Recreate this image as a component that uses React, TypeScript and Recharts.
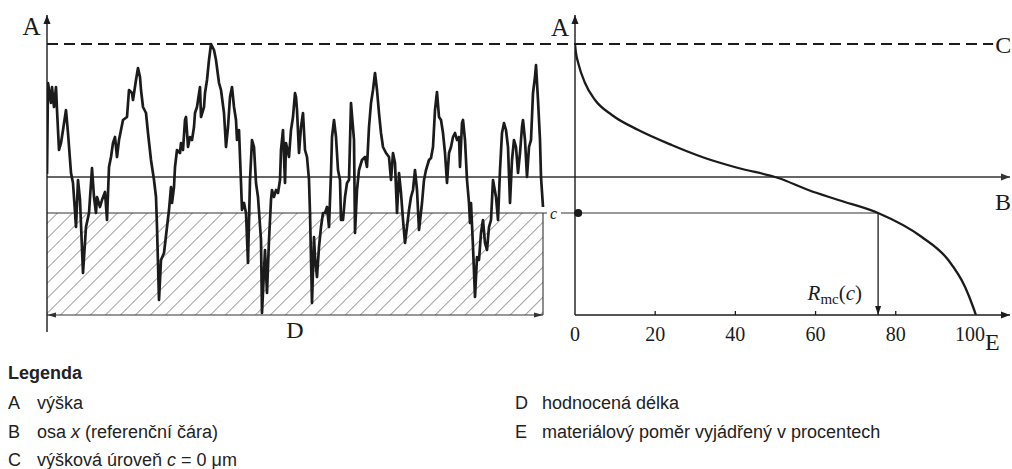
import React from "react";
import {
  ComposedChart,
  Line,
  XAxis,
  YAxis,
  ReferenceLine,
  ReferenceArea,
  ReferenceDot,
} from "recharts";

// surface profile: position along evaluation length (mm) and height (µm, relative to line B)
const profileX = [
  0.0, 0.01, 0.04, 0.05, 0.07, 0.09, 0.1, 0.12, 0.14, 0.16, 0.19, 0.21, 0.24, 0.26, 0.29, 0.31, 0.33, 0.36,
  0.39, 0.42, 0.45, 0.47, 0.49, 0.5, 0.53, 0.55, 0.58, 0.6, 0.62, 0.64, 0.66, 0.68, 0.7, 0.72, 0.74, 0.76,
  0.8, 0.82, 0.85, 0.86, 0.89, 0.91, 0.93, 0.94, 0.96, 0.99, 1.01, 1.04, 1.07, 1.09, 1.1, 1.12, 1.14, 1.17,
  1.2, 1.22, 1.24, 1.25, 1.27, 1.28, 1.3, 1.33, 1.34, 1.36, 1.38, 1.39, 1.41, 1.43, 1.45, 1.47, 1.48, 1.5,
  1.53, 1.54, 1.57, 1.58, 1.6, 1.62, 1.64, 1.67, 1.69, 1.72, 1.74, 1.77, 1.79, 1.81, 1.83, 1.85, 1.87, 1.89,
  1.9, 1.92, 1.94, 1.95, 1.97, 1.99, 2.01, 2.03, 2.05, 2.07, 2.09, 2.11, 2.14, 2.15, 2.18, 2.2, 2.22, 2.24,
  2.25, 2.27, 2.29, 2.31, 2.33, 2.34, 2.36, 2.38, 2.39, 2.42, 2.44, 2.46, 2.48, 2.49, 2.5, 2.52, 2.54, 2.56,
  2.58, 2.6, 2.62, 2.63, 2.65, 2.67, 2.68, 2.7, 2.72, 2.74, 2.76, 2.78, 2.8, 2.82, 2.84, 2.85, 2.87, 2.89,
  2.91, 2.93, 2.94, 2.96, 2.98, 3.0, 3.02, 3.04, 3.07, 3.08, 3.1, 3.12, 3.15, 3.18, 3.2, 3.22, 3.24, 3.26,
  3.28, 3.3, 3.32, 3.34, 3.36, 3.39, 3.42, 3.44, 3.46, 3.48, 3.5, 3.52, 3.54, 3.56, 3.58, 3.6, 3.62, 3.64,
  3.66, 3.68, 3.7, 3.72, 3.75, 3.77, 3.79, 3.82, 3.84, 3.86, 3.88, 3.9, 3.92, 3.94, 3.96, 3.98, 4.0, 4.02,
  4.04, 4.06, 4.08, 4.1, 4.12, 4.13, 4.15, 4.16, 4.18, 4.2, 4.22, 4.23, 4.24, 4.26, 4.28, 4.3, 4.32, 4.34,
  4.36, 4.38, 4.4, 4.42, 4.44, 4.46, 4.49, 4.51, 4.53, 4.55, 4.57, 4.59, 4.61, 4.63, 4.65, 4.67, 4.69, 4.71,
  4.73, 4.75, 4.76, 4.78, 4.8, 4.82, 4.84, 4.86, 4.88, 4.89, 4.91, 4.93, 4.94, 4.96,
];
const profileZ = [
  0.3, 9.4, 7.4, 9.0, 7.0, 9.0, 6.7, 2.7, 3.4, 4.7, 6.7, 4.4, 0.4, -0.6, -5.0, -0.3, -2.3, -9.6,
  -5.0, -3.6, 0.9, -2.0, -3.6, -2.0, -3.0, -2.3, -1.5, -4.3, 1.0, 2.0, 3.4, 4.0, 2.0, 3.7, 4.7, 5.7,
  6.0, 8.7, 8.4, 7.7, 9.7, 10.9, 10.0, 8.7, 7.0, 6.4, 4.4, 1.7, -0.3, -2.0, -5.0, -12.3, -8.3, -7.6,
  -5.0, -3.3, -1.0, -2.6, -1.0, 1.0, 2.7, 2.4, 3.4, 2.7, 5.7, 6.0, 3.0, 4.0, 3.7, 5.0, 6.4, 7.0,
  9.0, 6.0, 7.0, 8.4, 9.7, 11.7, 13.3, 12.7, 11.7, 9.4, 8.7, 6.4, 3.0, 5.0, 8.0, 9.0, 7.0, 5.7,
  3.7, 4.7, -0.6, -3.3, -2.6, -3.6, -8.6, -0.3, 3.7, 3.0, -0.6, -2.0, -6.3, -13.6, -7.3, -11.6, -6.3, -2.3,
  -1.3, -2.0, -1.3, -1.6, -0.3, 2.7, 4.7, -0.6, 3.4, 2.0, 4.7, 6.0, 8.4, 8.0, 6.7, 2.4, 5.0, 6.4,
  2.7, 2.0, -0.3, -3.6, -12.6, -6.0, -8.0, -10.0, -7.0, -5.0, -3.6, -3.6, -3.0, -5.0, 0.4, 4.0, 5.7, 4.0,
  0.7, -0.3, -4.3, -4.3, -2.0, -0.6, -0.3, 7.4, 3.7, -5.6, -1.3, 0.7, 1.7, 2.0, 1.0, 5.0, 7.4, 8.7,
  10.4, 8.7, 6.4, 4.4, 3.0, 2.4, 2.0, -0.3, 2.4, 1.4, -3.6, 0.4, -1.6, -4.3, -6.6, -5.0, -3.3, -2.0,
  -1.3, 0.7, -1.3, -5.3, -2.6, -0.3, 0.7, 1.7, 1.9, 3.0, 6.7, 8.5, 6.0, 5.7, 4.4, 2.4, -0.6, 2.4,
  3.0, 4.0, 4.4, 3.7, 4.0, 1.0, 5.4, 5.7, 3.7, -0.3, -2.6, -4.6, -2.6, -7.0, -12.0, -8.0, -8.3, -5.6,
  -4.3, -6.6, -7.3, -5.0, -4.3, -0.3, -2.0, -4.3, 0.7, 4.4, 5.4, 4.7, 3.0, -2.6, 1.7, 3.7, 3.0, 0.4,
  2.4, 5.0, 5.7, 3.7, 0.0, 3.0, 3.7, 8.4, 10.0, 11.2, 7.7, 3.7, 0.0, -3.0,
];

// material ratio curve: ratio (%) and height (µm)
const ratioPct = [0, 0.25, 0.8, 2.5, 5.0, 9.2, 15.8, 24.1, 32.4, 40.7, 50.7, 58.2, 65.7, 75.6, 86.5, 93.1, 97.3, 99.3, 100];
const ratioZ = [13.3, 12.4, 11.4, 9.4, 7.7, 6.2, 4.7, 3.2, 1.9, 0.9, -0.1, -1.3, -2.3, -3.6, -6.0, -8.3, -11.0, -13.0, -13.8];
const ratioTicks = [0, 20, 40, 60, 80, 100];

// levels
const PEAK_Z = 13.3; // C, highest peak
const CUT_Z = -3.6; // section level c
const BASE_Z = -13.8; // lowest valley
const TOP_Z = 16.2; // arrow tips of height axes
const TAIL_Z = -15.5; // left axis runs a bit below the profile
const EVAL_LEN = 4.96;
const LEFT_MAX = 5.28;
const RIGHT_MAX = 108.5;
const RMC = 75.6;

const legendLeft: [string, React.ReactNode][] = [
  ["A", "výška"],
  ["B", <>osa <tspan fontStyle="italic">x</tspan> (referenční čára)</>],
  ["C", <>výšková úroveň <tspan fontStyle="italic">c</tspan> = 0 μm</>],
];
const legendRight: [string, React.ReactNode][] = [
  ["D", "hodnocená délka"],
  ["E", "materiálový poměr vyjádřený v procentech"],
];

const profileData = profileX.map((x, i) => ({ x, z: profileZ[i] }));
const ratioData = ratioPct.map((p, i) => ({ p, z: ratioZ[i] }));

const ink = "#1b1b1b";
const serif = "'Liberation Serif', 'DejaVu Serif', serif";
const sans = "'Liberation Sans', Arial, sans-serif";
const CW = 1012;
const CH = 360;

function head(x1: number, y1: number, x2: number, y2: number, len: number, half: number) {
  const d = Math.hypot(x2 - x1, y2 - y1) || 1;
  const ux = (x2 - x1) / d;
  const uy = (y2 - y1) / d;
  const bx = x2 - ux * len;
  const by = y2 - uy * len;
  return `${x2},${y2} ${bx - uy * half},${by + ux * half} ${bx + uy * half},${by - ux * half}`;
}

type Spec = {
  heads?: "end" | "both";
  len?: number;
  half?: number;
  width?: number;
  color?: string;
  dash?: string;
  text?: React.ReactNode;
  at?: "end" | "mid";
  tx?: number;
  ty?: number;
  anchor?: "start" | "middle" | "end";
  size?: number;
  italic?: boolean;
};

const arrowLine = (s: Spec) => (p: any) => {
  const { x1, y1, x2, y2 } = p;
  const color = s.color ?? ink;
  const len = s.len ?? 9;
  const half = s.half ?? 3.5;
  const rx = s.at === "mid" ? (x1 + x2) / 2 : x2;
  const ry = s.at === "mid" ? (y1 + y2) / 2 : y2;
  return (
    <g>
      <line x1={x1} y1={y1} x2={x2} y2={y2} stroke={color} strokeWidth={s.width ?? 1.3} strokeDasharray={s.dash} />
      {s.heads && <polygon points={head(x1, y1, x2, y2, len, half)} fill={color} />}
      {s.heads === "both" && <polygon points={head(x2, y2, x1, y1, len, half)} fill={color} />}
      {s.text != null && (
        <text
          x={rx + (s.tx ?? 0)}
          y={ry + (s.ty ?? 0)}
          textAnchor={s.anchor ?? "middle"}
          fontFamily={serif}
          fontSize={s.size ?? 24}
          fontStyle={s.italic ? "italic" : "normal"}
          fill={ink}
        >
          {s.text}
        </text>
      )}
    </g>
  );
};

const RatioTick = (props: any) => {
  const { x, y, payload } = props;
  const v = payload.value as number;
  return (
    <g>
      {v > 0 && v < 100 && <line x1={x} y1={y} x2={x} y2={y - 4} stroke={ink} strokeWidth={1.3} />}
      <text x={v === 100 ? x - 6 : x} y={y + 26} textAnchor="middle" fontFamily={serif} fontSize={20} fill={ink}>
        {v}
      </text>
    </g>
  );
};

function ProfilePanel() {
  return (
    <ComposedChart width={CW} height={CH} margin={{ top: 15, right: CW - 575, bottom: 45, left: 47 }}>
      <XAxis type="number" dataKey="x" domain={[0, LEFT_MAX]} allowDataOverflow hide />
      <YAxis type="number" domain={[BASE_Z, TOP_Z]} allowDataOverflow hide />
      <ReferenceArea x1={0} x2={EVAL_LEN} y1={BASE_Z} y2={CUT_Z} fill="url(#hatch)" fillOpacity={1} stroke="none" ifOverflow="visible" />
      <ReferenceLine segment={[{ x: EVAL_LEN, y: CUT_Z }, { x: EVAL_LEN, y: BASE_Z }]} ifOverflow="visible" shape={arrowLine({ width: 1.1, color: "#333" })} />
      <ReferenceLine segment={[{ x: 0, y: 0 }, { x: LEFT_MAX, y: 0 }]} ifOverflow="visible" shape={arrowLine({ width: 1.3, color: "#333" })} />
      <ReferenceLine
        segment={[{ x: 0, y: CUT_Z }, { x: 5.0, y: CUT_Z }]}
        ifOverflow="visible"
        shape={arrowLine({ width: 1.2, color: "#333", text: "c", tx: 6.5, ty: 6, size: 16, italic: true })}
      />
      <ReferenceLine
        segment={[{ x: 0, y: PEAK_Z }, { x: LEFT_MAX, y: PEAK_Z }]}
        ifOverflow="visible"
        shape={arrowLine({ width: 1.8, dash: "11 6" })}
      />
      <ReferenceLine
        segment={[{ x: 0, y: BASE_Z }, { x: EVAL_LEN, y: BASE_Z }]}
        ifOverflow="visible"
        shape={arrowLine({ width: 1.2, color: "#333", heads: "both", len: 9, half: 2.5, text: "D", at: "mid", ty: 23 })}
      />
      <ReferenceLine
        segment={[{ x: 0, y: TAIL_Z }, { x: 0, y: TOP_Z }]}
        ifOverflow="visible"
        shape={arrowLine({ width: 1.4, heads: "end", text: "A", tx: -15.5, ty: 20, size: 25 })}
      />
      <Line
        data={profileData}
        dataKey="z"
        type="linear"
        stroke={ink}
        strokeWidth={2.7}
        strokeLinejoin="round"
        dot={false}
        activeDot={false}
        isAnimationActive={false}
      />
    </ComposedChart>
  );
}

function RatioPanel() {
  return (
    <ComposedChart width={CW} height={CH} margin={{ top: 15, right: CW - 1010, bottom: 15, left: 575 }}>
      <XAxis
        type="number"
        dataKey="p"
        domain={[0, RIGHT_MAX]}
        allowDataOverflow
        ticks={ratioTicks}
        interval={0}
        axisLine={false}
        tickLine={false}
        tickSize={0}
        tickMargin={0}
        height={30}
        tick={<RatioTick />}
      />
      <YAxis type="number" domain={[BASE_Z, TOP_Z]} allowDataOverflow hide />
      <ReferenceLine
        segment={[{ x: 0, y: 0 }, { x: RIGHT_MAX, y: 0 }]}
        ifOverflow="visible"
        shape={arrowLine({ width: 1.3, color: "#333", heads: "end", text: "B", tx: -15, ty: 33, anchor: "start" })}
      />
      <ReferenceLine
        segment={[{ x: 0, y: PEAK_Z }, { x: 104.3, y: PEAK_Z }]}
        ifOverflow="visible"
        shape={arrowLine({ width: 1.8, dash: "11 6", text: "C", tx: 2, ty: 9, anchor: "start" })}
      />
      <ReferenceLine segment={[{ x: -3.5, y: CUT_Z }, { x: RMC, y: CUT_Z }]} ifOverflow="visible" shape={arrowLine({ width: 1.2, color: "#333" })} />
      <ReferenceLine
        segment={[{ x: RMC, y: CUT_Z }, { x: RMC, y: BASE_Z }]}
        ifOverflow="visible"
        shape={arrowLine({
          width: 1.3,
          heads: "end",
          len: 9,
          half: 3,
          anchor: "end",
          tx: -16,
          ty: -15,
          size: 21,
          text: (
            <>
              <tspan fontStyle="italic">R</tspan>
              <tspan fontSize={15} dy={4}>mc</tspan>
              <tspan dy={-4}>(</tspan>
              <tspan fontStyle="italic">c</tspan>
              <tspan>)</tspan>
            </>
          ),
        })}
      />
      <ReferenceLine
        segment={[{ x: 0, y: BASE_Z }, { x: RIGHT_MAX, y: BASE_Z }]}
        ifOverflow="visible"
        shape={arrowLine({ width: 1.3, heads: "end", text: "E", tx: -25, ty: 35, anchor: "start" })}
      />
      <ReferenceLine
        segment={[{ x: 0, y: BASE_Z }, { x: 0, y: TOP_Z }]}
        ifOverflow="visible"
        shape={arrowLine({ width: 1.4, heads: "end", text: "A", tx: -15, ty: 21, size: 25 })}
      />
      <Line
        data={ratioData}
        dataKey="z"
        type="monotone"
        stroke={ink}
        strokeWidth={2.3}
        dot={false}
        activeDot={false}
        isAnimationActive={false}
      />
      <ReferenceDot x={0.8} y={CUT_Z} r={4} fill={ink} stroke="none" ifOverflow="visible" />
    </ComposedChart>
  );
}

function Legend() {
  return (
    <svg width={CW} height={469} style={{ position: "absolute", left: 0, top: 0 }}>
      <text x={8} y={379} fontFamily={sans} fontSize={18} fontWeight="bold" fill="#222">
        Legenda
      </text>
      {legendLeft.map(([k, t], i) => (
        <g key={k} fontFamily={sans} fontSize={18} fill="#222">
          <text x={8} y={409 + i * 28.5}>{k}</text>
          <text x={37} y={409 + i * 28.5}>{t}</text>
        </g>
      ))}
      {legendRight.map(([k, t], i) => (
        <g key={k} fontFamily={sans} fontSize={18} fill="#222">
          <text x={515} y={409 + i * 28.5}>{k}</text>
          <text x={542} y={409 + i * 28.5}>{t}</text>
        </g>
      ))}
    </svg>
  );
}

export default function App() {
  return (
    <div style={{ position: "absolute", left: 0, top: 0, width: CW, height: 469, background: "#fff", overflow: "hidden" }}>
      <svg width={0} height={0} style={{ position: "absolute" }}>
        <defs>
          <pattern id="hatch" patternUnits="userSpaceOnUse" width={10.6} height={10.6} patternTransform="rotate(45)">
            <line x1={0} y1={0} x2={0} y2={10.6} stroke="#555" strokeWidth={1.1} />
          </pattern>
        </defs>
      </svg>
      <Legend />
      <div style={{ position: "absolute", left: 0, top: 0 }}>
        <ProfilePanel />
      </div>
      <div style={{ position: "absolute", left: 0, top: 0 }}>
        <RatioPanel />
      </div>
    </div>
  );
}
